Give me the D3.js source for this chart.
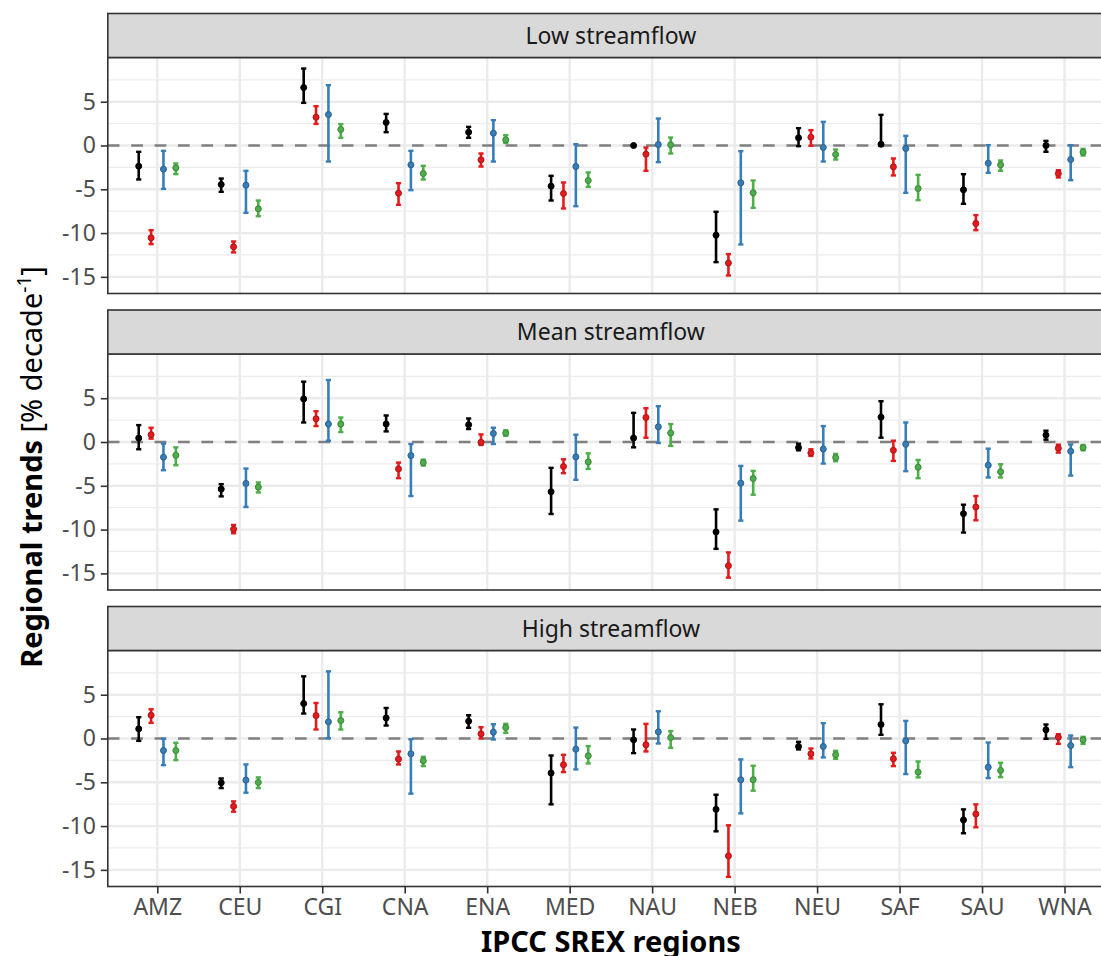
<!DOCTYPE html>
<html>
<head>
<meta charset="utf-8">
<script src="https://cdn.jsdelivr.net/npm/d3@7"></script>
<style>
  html, body { margin: 0; padding: 0; background: #fff; }
  svg { display: block; font-family: "Noto Sans", "Open Sans", sans-serif; }
</style>
</head>
<body>
<svg id="chart" width="1101" height="956"></svg>
<script>
// ---------------- DATA ----------------
const regions = ["AMZ","CEU","CGI","CNA","ENA","MED","NAU","NEB","NEU","SAF","SAU","WNA"];
const panelTitles = ["Low streamflow","Mean streamflow","High streamflow"];
const seriesNames = ["series1","series2","series3","series4"];
const seriesColors = ["#000000","#E41A1C","#377EB8","#4DAF4A"];
const yTicks = [-15,-10,-5,0,5];
const yMinorTicks = [-12.5,-7.5,-2.5,2.5,7.5];

// each entry: [trend, lower, upper]  (% decade^-1), one per region
const lowS1 = [[-2.36,-3.88,-0.72],[-4.45,-5.29,-3.77],[6.62,4.87,8.79],[2.63,1.52,3.61],[1.52,0.88,2.13],[-4.64,-6.28,-3.46],[0.0,-0.05,0.05],[-10.24,-13.32,-7.57],[0.88,-0.08,1.98],[0.15,-0.05,3.5],[-5.06,-6.66,-3.27],[0.0,-0.72,0.53]];
const lowS2 = [[-10.54,-11.26,-9.67],[-11.57,-12.21,-10.96],[3.23,2.47,4.49],[-5.44,-6.77,-4.3],[-1.64,-2.4,-0.91],[-5.48,-7.19,-4.22],[-0.99,-2.89,-0.23],[-13.43,-14.84,-12.4],[0.95,-0.04,1.75],[-2.44,-3.42,-1.48],[-8.9,-9.67,-7.95],[-3.2,-3.65,-2.82]];
const lowS3 = [[-2.7,-4.95,-0.61],[-4.53,-7.69,-2.89],[3.54,-1.83,6.89],[-2.21,-5.1,-0.61],[1.41,-1.83,2.89],[-2.4,-6.93,0.15],[0.11,-1.9,3.08],[-4.26,-11.3,-0.65],[-0.23,-1.83,2.7],[-0.34,-5.4,1.1],[-2.02,-3.12,0.04],[-1.6,-3.96,0.04]];
const lowS4 = [[-2.55,-3.27,-2.05],[-7.23,-8.07,-6.28],[1.83,0.88,2.44],[-3.2,-3.88,-2.32],[0.65,0.3,1.18],[-4.0,-4.72,-3.08],[0.08,-0.91,0.91],[-5.4,-7.12,-4.0],[-1.03,-1.6,-0.46],[-4.91,-6.24,-3.35],[-2.21,-2.89,-1.71],[-0.76,-1.14,-0.38]];

const meanS1 = [[0.45,-0.83,1.93],[-5.38,-6.21,-4.81],[4.92,2.23,6.89],[2.05,1.21,3.03],[1.97,1.48,2.69],[-5.68,-8.22,-2.95],[0.45,-0.61,3.33],[-10.27,-12.2,-7.69],[-0.64,-0.95,-0.19],[2.84,0.49,4.66],[-8.18,-10.34,-7.16],[0.8,0.27,1.29]];
const meanS2 = [[0.83,0.38,1.63],[-9.96,-10.42,-9.47],[2.65,1.82,3.52],[-3.07,-4.13,-2.35],[-0.04,-0.34,0.87],[-2.8,-3.56,-1.97],[2.8,0.49,3.86],[-14.13,-15.49,-12.61],[-1.25,-1.59,-0.83],[-0.95,-2.16,0.15],[-7.42,-8.94,-6.17],[-0.72,-1.21,-0.3]];
const meanS3 = [[-1.74,-3.22,-0.19],[-4.73,-7.42,-3.03],[2.05,0.15,7.08],[-1.55,-6.17,-0.23],[0.98,-0.23,1.63],[-1.7,-4.32,0.83],[1.74,-0.11,4.09],[-4.7,-8.98,-2.73],[-0.8,-2.46,1.82],[-0.27,-3.33,2.23],[-2.65,-4.05,-0.76],[-1.06,-3.83,-0.27]];
const meanS4 = [[-1.52,-2.65,-0.61],[-5.15,-5.76,-4.62],[2.05,1.14,2.8],[-2.35,-2.69,-2.01],[1.02,0.72,1.33],[-2.27,-3.07,-1.29],[1.02,-0.45,2.05],[-4.17,-6.02,-3.3],[-1.78,-2.2,-1.36],[-2.88,-4.13,-2.05],[-3.41,-4.05,-2.54],[-0.64,-0.95,-0.34]];

const highS1 = [[1.1,-0.27,2.43],[-5.05,-5.66,-4.56],[3.99,2.85,7.1],[2.35,1.48,3.49],[1.97,1.22,2.66],[-3.95,-7.52,-1.94],[-0.15,-1.67,1.03],[-8.09,-10.6,-6.42],[-0.91,-1.25,-0.38],[1.6,0.42,3.91],[-9.3,-10.82,-8.09],[0.99,-0.04,1.6]];
const highS2 = [[2.66,1.79,3.34],[-7.75,-8.36,-7.18],[2.62,1.03,4.06],[-2.35,-2.96,-1.48],[0.53,0.0,1.29],[-3.0,-3.84,-1.86],[-0.72,-1.48,1.67],[-13.41,-15.8,-9.91],[-1.75,-2.28,-1.14],[-2.32,-3.15,-1.63],[-8.62,-10.14,-7.52],[0.15,-0.61,0.49]];
const highS3 = [[-1.37,-3.04,-0.04],[-4.75,-6.19,-2.96],[1.9,0.04,7.67],[-1.75,-6.3,-0.08],[0.72,-0.11,1.63],[-1.22,-3.53,1.25],[0.76,-0.57,3.11],[-4.71,-8.55,-2.39],[-0.91,-2.16,1.75],[-0.27,-4.06,2.01],[-3.27,-4.52,-0.46],[-0.8,-3.27,0.34]];
const highS4 = [[-1.37,-2.47,-0.49],[-5.01,-5.66,-4.44],[2.05,1.03,3.0],[-2.54,-3.15,-2.09],[1.25,0.65,1.67],[-1.97,-2.85,-0.87],[0.11,-1.06,0.84],[-4.71,-5.96,-3.11],[-1.86,-2.32,-1.41],[-3.84,-4.44,-2.62],[-3.65,-4.41,-2.77],[-0.15,-0.61,0.19]];

const panelSeries = [
  [lowS1, lowS2, lowS3, lowS4],
  [meanS1, meanS2, meanS3, meanS4],
  [highS1, highS2, highS3, highS4]
];

// ---------------- LAYOUT ----------------
const svg = d3.select("#chart");
const plotLeft = 107.8, plotRight = 1114;
const firstTop = 13.5, stripH = 44, panelH = 236, gapH = 16.5;
const yDomain = [-16.9, 10.05];

const x = d3.scalePoint().domain(regions).range([plotLeft, plotRight]).padding(0.6);
const step = x.step();
const dodge = d3.scalePoint().domain(seriesNames).range([-0.225 * step, 0.225 * step]);

const gridCol = "#EBEBEB", borderCol = "#333333";
const tickFont = 23;

panelTitles.forEach((title, p) => {
  const stripTop = firstTop + p * (stripH + panelH + gapH);
  const pTop = stripTop + stripH, pBot = pTop + panelH;
  const y = d3.scaleLinear().domain(yDomain).range([pBot, pTop]);
  const g = svg.append("g");

  g.append("rect").attr("x", plotLeft).attr("y", pTop).attr("width", plotRight - plotLeft).attr("height", panelH).attr("fill", "#fff");

  // minor grid
  g.selectAll(".ymin").data(yMinorTicks).join("line")
    .attr("x1", plotLeft).attr("x2", plotRight)
    .attr("y1", d => y(d)).attr("y2", d => y(d))
    .attr("stroke", gridCol).attr("stroke-width", 1.2);
  // major grid
  g.selectAll(".ymaj").data(yTicks).join("line")
    .attr("x1", plotLeft).attr("x2", plotRight)
    .attr("y1", d => y(d)).attr("y2", d => y(d))
    .attr("stroke", gridCol).attr("stroke-width", 2.4);
  g.selectAll(".xmaj").data(regions).join("line")
    .attr("x1", d => x(d)).attr("x2", d => x(d))
    .attr("y1", pTop).attr("y2", pBot)
    .attr("stroke", gridCol).attr("stroke-width", 2.4);

  // zero reference line
  g.append("line")
    .attr("x1", plotLeft).attr("x2", plotRight)
    .attr("y1", y(0)).attr("y2", y(0))
    .attr("stroke", "#808080").attr("stroke-width", 2.4)
    .attr("stroke-dasharray", "11.7,11.7");

  // error bars + points
  seriesNames.forEach((s, si) => {
    const col = seriesColors[si];
    const data = panelSeries[p][si];
    const sg = g.append("g");
    const cx = (d, i) => x(regions[i]) + dodge(s);
    sg.selectAll(".bar").data(data).join("line")
      .attr("x1", cx).attr("x2", cx)
      .attr("y1", d => y(d[1])).attr("y2", d => y(d[2]))
      .attr("stroke", col).attr("stroke-width", 2.6);
    [1, 2].forEach(k => {
      sg.selectAll(".cap" + k).data(data).join("line")
        .attr("x1", (d, i) => cx(d, i) - 2.6).attr("x2", (d, i) => cx(d, i) + 2.6)
        .attr("y1", d => y(d[k])).attr("y2", d => y(d[k]))
        .attr("stroke", col).attr("stroke-width", 2.4);
    });
    sg.selectAll(".pt").data(data).join("circle")
      .attr("cx", cx).attr("cy", d => y(d[0])).attr("r", 3)
      .attr("fill", col)
      .attr("stroke", d3.color(col).darker(0.8)).attr("stroke-width", 1);
  });

  // panel border
  g.append("rect").attr("x", plotLeft).attr("y", pTop).attr("width", plotRight - plotLeft).attr("height", panelH)
    .attr("fill", "none").attr("stroke", borderCol).attr("stroke-width", 1.6);

  // strip
  g.append("rect").attr("x", plotLeft).attr("y", stripTop).attr("width", plotRight - plotLeft).attr("height", stripH)
    .attr("fill", "#D9D9D9").attr("stroke", borderCol).attr("stroke-width", 1.6);
  g.append("text")
    .attr("x", (plotLeft + plotRight) / 2).attr("y", stripTop + stripH / 2)
    .attr("dy", "0.35em").attr("text-anchor", "middle")
    .attr("font-size", tickFont).attr("fill", "#1A1A1A").text(title);

  // y axis
  const ya = g.append("g").attr("transform", `translate(${plotLeft},0)`)
    .call(d3.axisLeft(y).tickValues(yTicks).tickSize(7).tickPadding(5).tickFormat(d => String(d)));
  ya.select(".domain").remove();
  ya.selectAll(".tick line").attr("stroke", borderCol).attr("stroke-width", 1.6);
  ya.selectAll(".tick text").attr("font-size", tickFont).attr("fill", "#4D4D4D").attr("font-family", "Noto Sans");

  // x axis only on last panel
  if (p === panelTitles.length - 1) {
    const xa = g.append("g").attr("transform", `translate(0,${pBot})`)
      .call(d3.axisBottom(x).tickSize(7).tickPadding(5));
    xa.select(".domain").remove();
    xa.selectAll(".tick line").attr("stroke", borderCol).attr("stroke-width", 1.6);
    xa.selectAll(".tick text").attr("font-size", tickFont).attr("fill", "#4D4D4D").attr("font-family", "Noto Sans");

    svg.append("text")
      .attr("x", (plotLeft + plotRight) / 2).attr("y", pBot + 65)
      .attr("text-anchor", "middle").attr("font-size", 29).attr("font-weight", "bold")
      .attr("fill", "#000").text("IPCC SREX regions");
  }
});

// y axis title
const yt = svg.append("text")
  .attr("transform", "translate(42,467) rotate(-90)")
  .attr("text-anchor", "middle").attr("font-size", 29).attr("fill", "#000");
yt.append("tspan").attr("font-weight", "bold").text("Regional trends");
yt.append("tspan").text(" [% decade");
yt.append("tspan").attr("font-size", 19).attr("dy", -11).text("-1");
yt.append("tspan").attr("dy", 11).text("]");
</script>
</body>
</html>
